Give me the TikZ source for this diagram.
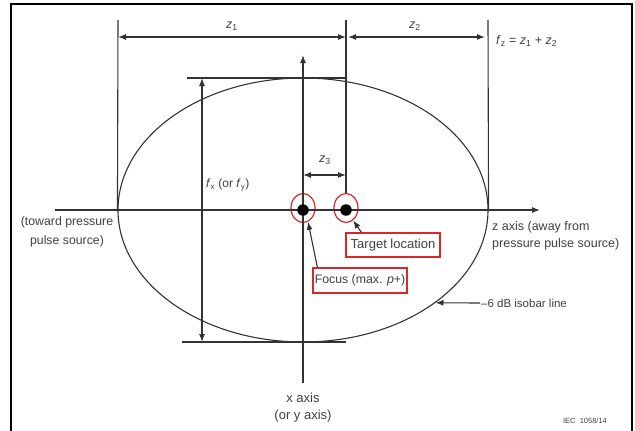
\documentclass[tikz,border=0pt]{standalone}
\usepackage{fontspec}
\setmainfont{Liberation Sans}
\usetikzlibrary{shapes.geometric,arrows.meta}
\definecolor{ink}{HTML}{333333}
\definecolor{txt}{HTML}{404040}
\definecolor{redline}{HTML}{D82828}
\newcommand{\vv}[2]{\textit{#1}\textsubscript{#2}}
\tikzset{
  lbl/.style={text=txt, font=\fontsize{12.5}{17}\selectfont, inner sep=1pt},
  ln/.style={draw=ink, line width=1.1pt},
  tip/.style={-{Latex[length=8pt,width=6pt]}},
  dtip/.style={{Latex[length=8pt,width=6pt]}-{Latex[length=8pt,width=6pt]}},
  dot/.style={circle, fill=black, minimum size=11.5pt, inner sep=0pt},
  ring/.style={ellipse, draw=redline, line width=1.2pt, minimum width=24pt, minimum height=29pt, inner sep=0pt},
  redbox/.style={draw=redline, line width=1.2pt, text=txt, inner sep=0pt, minimum height=24pt},
}
\begin{document}
\begin{tikzpicture}[x=1pt,y=-1pt]
\useasboundingbox (0,0) rectangle (635,431);
% frame
\draw[black, line width=1.3pt] (11,435) -- (11,4) -- (632,4) -- (632,435);

% isobar ellipse
\node[ellipse, ln, minimum width=370pt, minimum height=264pt, inner sep=0pt] (iso) at (303,210) {};

% coordinates
\coordinate (zs) at (55,210);
\coordinate (ze) at (540,210);
\coordinate (xs) at (303,383);
\coordinate (xe) at (303,55);
\coordinate (l1) at (118,20);
\coordinate (l2) at (346,20);
\coordinate (l3) at (488,20);
\coordinate (a1) at (118,37);
\coordinate (a2) at (346,37);
\coordinate (a3) at (348,37);
\coordinate (a4) at (485,37);
\coordinate (h1a) at (187,78);
\coordinate (h1b) at (346,78);
\coordinate (h2a) at (182,342);
\coordinate (h2b) at (346,342);
\coordinate (fxt) at (202,78);
\coordinate (fxb) at (202,342);
\coordinate (z3a) at (303,175);
\coordinate (z3b) at (346,175);

% extension lines
\draw[ln] (l1) -- (iso.west);
\draw[ln] (l3) -- (iso.east);
\draw[ln] (h1a) -- (h1b);
\draw[ln] (h2a) -- (h2b);

% dots and rings
\node[ring, fill=white] (fring) at (303,208) {};
\node[ring, fill=white] (tring) at (346,208) {};
\draw[ln] (l2) -- (tring.north);

% axes
\draw[ln, tip] (zs) -- (ze);
\draw[ln, tip] (xs) -- (xe);

\node[dot] (focus) at (303,210) {};
\node[dot] (target) at (346,210) {};

% dimension arrows
\draw[ln, dtip] (a1) -- (a2);
\draw[ln, dtip] (a3) -- (a4);
\draw[ln, dtip] (fxt) -- (fxb);
\draw[ln, dtip] (z3a) -- (z3b);

% labels
\node[lbl] (z1lbl) at (232,26) {\textit{z}\textsubscript{1}};
\node[lbl] (z2lbl) at (415,26) {\textit{z}\textsubscript{2}};
\node[lbl, anchor=west] (fzlbl) at (495,41) {\vv{f}{z} = \vv{z}{1} + \vv{z}{2}};
\node[lbl] (z3lbl) at (325,160) {\textit{z}\textsubscript{3}};
\node[lbl, font=\fontsize{12}{14}\selectfont, anchor=west] (fxlbl) at (205,185) {\vv{f}{x} (or \vv{f}{y})};
\node[lbl, align=center, font=\fontsize{12.3}{19}\selectfont] (toward) at (67,232) {(toward pressure\\pulse source)};
\node[lbl, align=left, anchor=west] (zaxis) at (491,236) {z axis (away from\\pressure pulse source)};
\node[lbl, align=center, font=\fontsize{13}{17}\selectfont] (xaxis) at (303,408) {x axis\\(or y axis)};
\node[text=txt, font=\fontsize{7.5}{8}\selectfont, inner sep=0pt] (iec) at (585,421) {IEC\ \ 1058/14};

% red boxes
\node[redbox, font=\fontsize{13}{15}\selectfont, minimum width=94pt] (tbox) at (393,245) {Target location};
\node[redbox, font=\fontsize{12.3}{14}\selectfont, minimum width=94pt, minimum height=25pt] (fbox) at (360,280.5) {Focus (max. \textit{p}+)};
\draw[ln, tip] ([xshift=16pt]tbox.north west) -- (tring.-60);
\draw[ln, tip] ([xshift=5pt]fbox.north west) -- (fring.-70);

% isobar label
\node[lbl, font=\fontsize{11.5}{13}\selectfont, anchor=west] (isolbl) at (480,303) {–6 dB isobar line};
\draw[ln, tip] (isolbl.west) -- (iso.-35);
\end{tikzpicture}
\end{document}
